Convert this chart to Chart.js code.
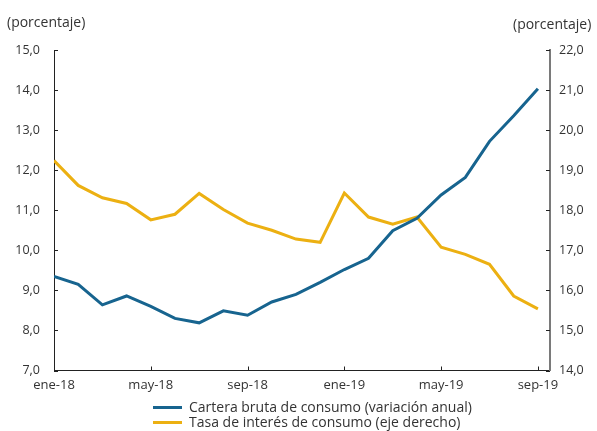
<!DOCTYPE html>
<html>
<head>
<meta charset="utf-8">
<script src="https://cdn.jsdelivr.net/npm/chart.js@4.4.0/dist/chart.umd.min.js"></script>
<style>
  html, body { margin: 0; padding: 0; background: #fff; }
  #wrap { position: relative; width: 597px; height: 431px; font-family: "Open Sans", sans-serif; color: #333; }
  #c { position: absolute; left: 0; top: 0; }
  .ttl { position: absolute; font-size: 14px; line-height: 16px; white-space: nowrap; }
  .leg { position: absolute; left: 153px; font-size: 14px; line-height: 16px; white-space: nowrap; }
  .leg span.sw { display: inline-block; width: 29px; height: 3px; vertical-align: middle; margin-right: 7px; position: relative; top: -1px; }
</style>
</head>
<body>
<div id="wrap">
  <canvas id="c" width="597" height="431"></canvas>
  <div class="ttl" style="left:7px; top:14px;">(porcentaje)</div>
  <div class="ttl" style="left:513px; top:16px;">(porcentaje)</div>
  <div class="leg" style="top:399px;"><span class="sw" style="background:#17648F"></span>Cartera bruta de consumo (variación anual)</div>
  <div class="leg" style="top:414px;"><span class="sw" style="background:#ECB012"></span>Tasa de interés de consumo (eje derecho)</div>
</div>
<script>
const months = ["ene-18","feb-18","mar-18","abr-18","may-18","jun-18","jul-18","ago-18","sep-18","oct-18","nov-18","dic-18",
                "ene-19","feb-19","mar-19","abr-19","may-19","jun-19","jul-19","ago-19","sep-19"];
const carteraBruta = [9.35, 9.15, 8.64, 8.86, 8.60, 8.30, 8.19, 8.49, 8.38, 8.71, 8.90, 9.20,
                      9.52, 9.80, 10.49, 10.80, 11.38, 11.82, 12.72, 13.36, 14.03];
const tasaInteres = [19.24, 18.62, 18.31, 18.17, 17.76, 17.90, 18.42, 18.02, 17.68, 17.50, 17.28, 17.20,
                     18.43, 17.83, 17.65, 17.83, 17.08, 16.90, 16.65, 15.86, 15.54];
const xTickIdx = [0, 4, 8, 12, 16, 20];
const leftTicks = [7, 8, 9, 10, 11, 12, 13, 14, 15];
const rightTicks = [14, 15, 16, 17, 18, 19, 20, 21, 22];

const fmt = v => v.toFixed(1).replace('.', ',');

const innerTicks = {
  id: 'innerTicks',
  afterDraw(chart) {
    const ctx = chart.ctx;
    const x = chart.scales.x, yl = chart.scales.y, yr = chart.scales.y1;
    ctx.save();
    ctx.lineWidth = 1;
    ctx.strokeStyle = '#222';
    leftTicks.forEach(v => {
      const p = Math.round(yl.getPixelForValue(v)) + 0.5;
      ctx.beginPath(); ctx.moveTo(yl.right, p); ctx.lineTo(yl.right + 4, p); ctx.stroke();
    });
    rightTicks.forEach(v => {
      const p = Math.round(yr.getPixelForValue(v)) + 0.5;
      ctx.beginPath(); ctx.moveTo(yr.left, p); ctx.lineTo(yr.left - 4, p); ctx.stroke();
    });
    xTickIdx.forEach(i => {
      const p = Math.round(x.getPixelForValue(i)) + 0.5;
      ctx.beginPath(); ctx.moveTo(p, x.top); ctx.lineTo(p, x.top - 4); ctx.stroke();
    });
    ctx.restore();
  }
};

new Chart(document.getElementById('c'), {
  type: 'line',
  data: {
    datasets: [
      {
        label: 'Cartera bruta de consumo (variación anual)',
        data: carteraBruta.map((v, i) => ({ x: i, y: v })),
        borderColor: '#17648F',
        borderWidth: 3,
        pointRadius: 0,
        tension: 0,
        yAxisID: 'y',
        order: 0
      },
      {
        label: 'Tasa de interés de consumo (eje derecho)',
        data: tasaInteres.map((v, i) => ({ x: i, y: v })),
        borderColor: '#ECB012',
        borderWidth: 3,
        pointRadius: 0,
        tension: 0,
        yAxisID: 'y1',
        order: 1
      }
    ]
  },
  options: {
    responsive: false,
    animation: false,
    devicePixelRatio: 1,
    layout: { padding: { top: 50, left: 0, right: 0, bottom: 0 } },
    plugins: { legend: { display: false }, tooltip: { enabled: false } },
    scales: {
      x: {
        type: 'linear',
        min: 0,
        max: 20.5,
        afterBuildTicks: s => { s.ticks = xTickIdx.map(v => ({ value: v })); },
        afterFit: s => { s.height = 60.5; },
        grid: { display: false, drawTicks: false },
        border: { display: true, color: '#222', width: 1 },
        ticks: {
          padding: 7,
          maxRotation: 0,
          autoSkip: false,
          color: '#333',
          font: { family: 'Open Sans', size: 13 },
          callback: v => months[v]
        }
      },
      y: {
        position: 'left',
        min: 7,
        max: 15,
        afterBuildTicks: s => { s.ticks = leftTicks.map(v => ({ value: v })); },
        afterFit: s => { s.width = 54; },
        grid: { display: false, drawTicks: false },
        border: { display: true, color: '#222', width: 1 },
        ticks: {
          padding: 14,
          color: '#333',
          font: { family: 'Open Sans', size: 12.5 },
          callback: v => fmt(v)
        }
      },
      y1: {
        position: 'right',
        min: 14,
        max: 22,
        afterBuildTicks: s => { s.ticks = rightTicks.map(v => ({ value: v })); },
        afterFit: s => { s.width = 47; },
        grid: { display: false, drawTicks: false },
        border: { display: true, color: '#7a7a7a', width: 2 },
        ticks: {
          padding: 9,
          color: '#333',
          font: { family: 'Open Sans', size: 12.5 },
          callback: v => fmt(v)
        }
      }
    }
  },
  plugins: [innerTicks]
});
</script>
</body>
</html>
